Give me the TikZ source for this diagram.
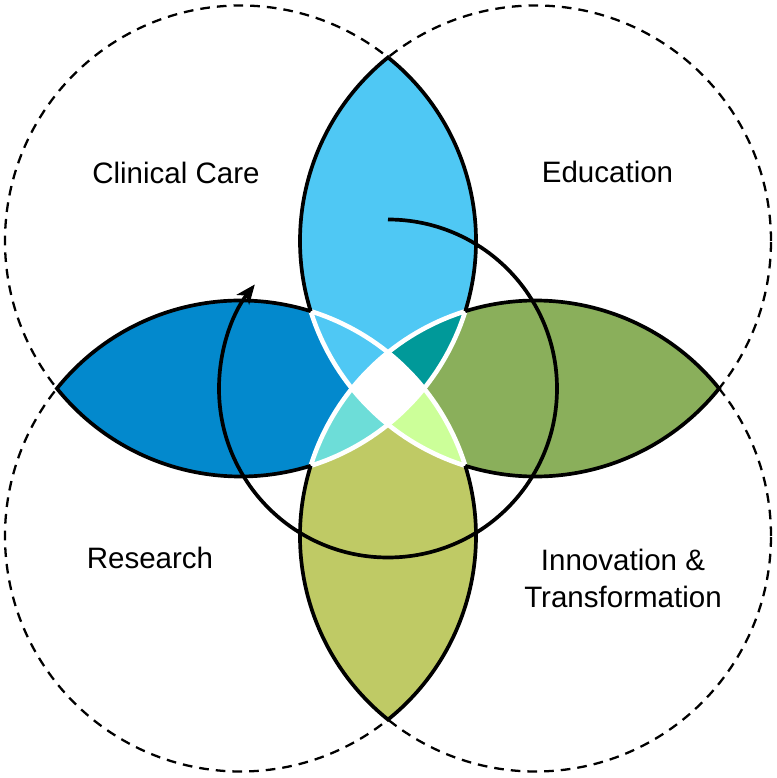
\documentclass[tikz,border=0pt]{standalone}
\usepackage{fontspec}
\setmainfont{Liberation Sans}
\usepackage{tikz}
\usetikzlibrary{arrows.meta}
\definecolor{topblue}{HTML}{4FC8F4}
\definecolor{leftblue}{HTML}{0389CD}
\definecolor{rightgreen}{HTML}{8AAF5B}
\definecolor{bottomgreen}{HTML}{BFCA65}
\definecolor{skypart}{HTML}{4FC8F4}
\definecolor{limepart}{HTML}{CCFF99}
\definecolor{tealpart}{HTML}{009999}
\definecolor{turqpart}{HTML}{6DDDD8}

\begin{document}
\begin{tikzpicture}[
	dashedcircle/.style={line width=1.3pt, dash pattern=on 5.5pt off 4pt},
	petaledge/.style={black, line width=2.1pt, line join=miter},
	lensedge/.style={white, line width=2.6pt},
	areatext/.style={font=\fontsize{16.8}{21}\selectfont, align=center}
]
	%Define the geometry
	%Circles centred at (\pm\d,\pm\d) with radius \r
	\pgfmathsetmacro{\d}{2.95}
	\pgfmathsetmacro{\r}{4.71}
	\pgfmathsetmacro{\D}{sqrt(2)*\d} %distance of a centre from the origin
	\pgfmathsetmacro{\h}{sqrt(\r*\r-\d*\d)} %tips of the petals at \d+\h
	\pgfmathsetmacro{\q}{sqrt(\r*\r-2*\d*\d)/sqrt(2)} %corners at (\pm\q,\pm\q)
	\pgfmathsetmacro{\aT}{atan2(\h,-\d)-45} %angle of a tip, seen from the centre
	\pgfmathsetmacro{\aC}{180+atan((\d-\q)/(\d+\q))-45} %angle of a corner

	\useasboundingbox (-7.76,-7.79) rectangle (7.78,7.77);

	\coordinate (cTL) at (-\d,\d);
	\coordinate (cTR) at (\d,\d);
	\coordinate (cBL) at (-\d,-\d);
	\coordinate (cBR) at (\d,-\d);

	%The four dashed circles
	\foreach \c in {cTL,cTR,cBL,cBR}
		\draw[dashedcircle] (\c) circle (\r);

	%Petals
	\begin{scope}
		\clip (cTL) circle (\r);
		\fill[topblue] (cTR) circle (\r);
		\fill[leftblue] (cBL) circle (\r);
	\end{scope}
	\begin{scope}
		\clip (cBR) circle (\r);
		\fill[rightgreen] (cTR) circle (\r);
		\fill[bottomgreen] (cBL) circle (\r);
	\end{scope}

	%Lens of TR and BL
	\begin{scope}
		\clip (cTR) circle (\r);
		\clip (cBL) circle (\r);
		\fill[skypart] (-\r,-\r) -- (\r,\r) -- (-\r,\r) -- cycle;
		\fill[limepart] (-\r,-\r) -- (\r,\r) -- (\r,-\r) -- cycle;
	\end{scope}
	%Lens of TL and BR
	\begin{scope}
		\clip (cTL) circle (\r);
		\clip (cBR) circle (\r);
		\fill[tealpart] (-\r,\r) -- (\r,-\r) -- (\r,\r) -- cycle;
		\fill[turqpart] (-\r,\r) -- (\r,-\r) -- (-\r,-\r) -- cycle;
		%centre, inside all four
		\clip (cTR) circle (\r);
		\fill[white] (cBL) circle (\r);
	\end{scope}

	%White edges of the two lenses
	\foreach \p in {45,135,225,315}
		\draw[lensedge] (\p:\D) ++({\p+\aC}:\r) arc[start angle={\p+\aC}, end angle={\p+360-\aC}, radius=\r];

	%Black edges of the petals, corner -> tip -> corner
	\foreach \p in {90,180,270,360}
		\draw[petaledge] ({\p-45}:\D) ++({\p-45+\aC}:\r)
			arc[start angle={\p-45+\aC}, end angle={\p-45+\aT}, radius=\r]
			arc[start angle={\p+45-\aT}, end angle={\p+45-\aC}, radius=\r];

	%The cycle
	\draw[petaledge, -{Stealth[length=11pt, width=9pt, inset=3pt]}] (0,3.38) arc[start angle=90, end angle=-218, radius=3.38];

	%Labels
	\node[areatext] (clinical) at (-4.24,4.32) {Clinical Care};
	\node[areatext] (education) at (4.39,4.34) {Education};
	\node[areatext] (research) at (-4.76,-3.39) {Research};
	\node[areatext] (innovation) at (4.7,-3.79) {Innovation \&\\Transformation};
\end{tikzpicture}
\end{document}
